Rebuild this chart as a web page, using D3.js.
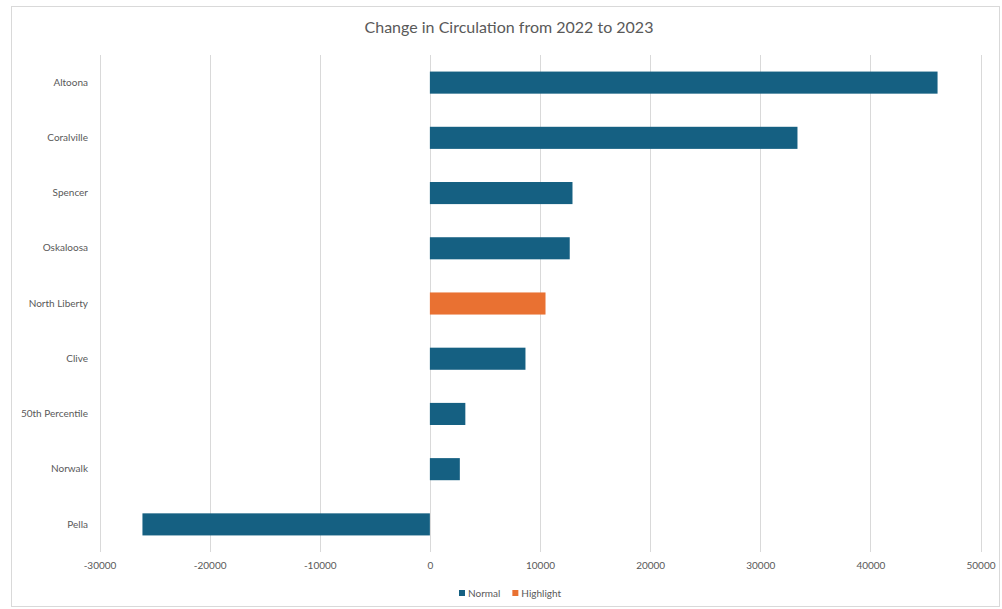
<!DOCTYPE html>
<html>
<head>
<meta charset="utf-8">
<script src="https://cdn.jsdelivr.net/npm/d3@7"></script>
<style>
  body { margin: 0; background: #fff; }
  svg text { font-family: Lato, "Open Sans", sans-serif; fill: #595959; }
</style>
</head>
<body>
<svg width="1002" height="609"></svg>
<script>
// data
var libraries = ["Altoona", "Coralville", "Spencer", "Oskaloosa", "North Liberty", "Clive", "50th Percentile", "Norwalk", "Pella"];
var changes = [46100, 33380, 12950, 12700, 10500, 8680, 3220, 2720, -26100];
var groups = ["Normal", "Normal", "Normal", "Normal", "Highlight", "Normal", "Normal", "Normal", "Normal"];
var xTicks = [-30000, -20000, -10000, 0, 10000, 20000, 30000, 40000, 50000];
var legendItems = ["Normal", "Highlight"];

var colors = { Normal: "#156082", Highlight: "#e97132" };

var svg = d3.select("svg");

// outer chart frame
svg.append("rect")
    .attr("x", 11.5).attr("y", 6.5)
    .attr("width", 988).attr("height", 600)
    .attr("fill", "#fff")
    .attr("stroke", "#d9d9d9");

svg.append("text")
    .attr("x", 509).attr("y", 33)
    .attr("text-anchor", "middle")
    .style("font-size", "16px")
    .text("Change in Circulation from 2022 to 2023");

var x = d3.scaleLinear().domain([-30000, 50000]).range([99.5, 980.5]);
var y = d3.scaleBand().domain(libraries).range([55, 552]).paddingInner(0.6).paddingOuter(0.3);

// gridlines
svg.append("g")
    .selectAll("line")
    .data(xTicks)
    .enter()
    .append("line")
    .attr("x1", function(d) { return Math.round(x(d)) + 0.5; })
    .attr("x2", function(d) { return Math.round(x(d)) + 0.5; })
    .attr("y1", 55).attr("y2", 552)
    .attr("stroke", "#d9d9d9");

// bars
var data = libraries.map(function(name, i) {
    return { name: name, value: changes[i], group: groups[i] };
});

svg.append("g")
    .selectAll("rect")
    .data(data)
    .enter()
    .append("rect")
    .attr("x", function(d) { return x(Math.min(0, d.value)); })
    .attr("width", function(d) { return Math.abs(x(d.value) - x(0)); })
    .attr("y", function(d) { return y(d.name); })
    .attr("height", y.bandwidth())
    .attr("fill", function(d) { return colors[d.group]; });

// x axis labels (plain hyphen for negatives, like excel)
var xAxis = d3.axisBottom(x).tickValues(xTicks).tickSize(0).tickPadding(10)
    .tickFormat(function(d) { return String(d); });
var gx = svg.append("g").attr("transform", "translate(0,552)").call(xAxis);
gx.select(".domain").remove();
gx.selectAll("text").style("font-size", "10px").style("fill", "#595959");

// category labels
var yAxis = d3.axisLeft(y).tickSize(0).tickPadding(11);
var gy = svg.append("g").attr("transform", "translate(99,0)").call(yAxis);
gy.select(".domain").remove();
gy.selectAll("text").style("font-size", "10px").style("fill", "#595959");

// legend
var legend = svg.append("g").attr("transform", "translate(459,594)");
var lx = 0;
legendItems.forEach(function(name) {
    legend.append("rect")
        .attr("x", lx).attr("y", -4)
        .attr("width", 6).attr("height", 6)
        .attr("fill", colors[name]);
    var t = legend.append("text")
        .attr("x", lx + 9).attr("y", 3)
        .style("font-size", "10px")
        .text(name);
    lx += 9 + t.node().getComputedTextLength() + 12;
});
</script>
</body>
</html>
